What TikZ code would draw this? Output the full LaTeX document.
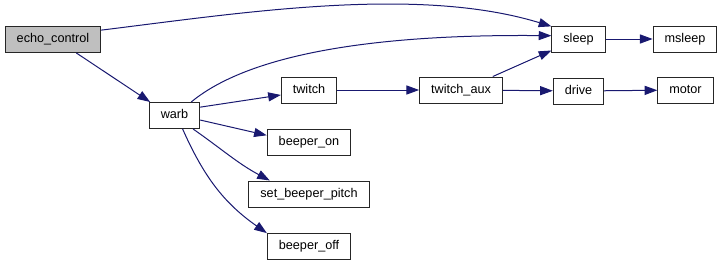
\documentclass[tikz,border=0pt]{standalone}
\usepackage{fontspec}
\setmainfont{Liberation Sans}
\usepackage{xcolor}
\usetikzlibrary{arrows.meta, positioning}
\definecolor{edgeBlue}{RGB}{25,25,112}
\definecolor{rootGray}{RGB}{191,191,191}

\begin{document}
\begin{tikzpicture}[x=0.75pt, y=-0.75pt, node distance=18.75pt,
fn/.style={rectangle, draw=black!85, fill=white, line width=0.75pt,
inner xsep=8.6pt, inner ysep=0pt, minimum height=19.5pt,
text height=7pt, text depth=2pt, font=\fontsize{9.5pt}{11pt}\selectfont},
call/.style={-{Triangle[length=9.5pt,width=6.8pt]}, line width=0.75pt, color=edgeBlue}]
\useasboundingbox (0,0) rectangle (723,261);
% functions of the call graph
\node[fn, fill=rootGray] (echoctl) at (53,39.5) {echo\_control};
\node[fn] (warb)    at (174.5,115.5) {warb};
\node[fn] (twitch)  at (309,90) {twitch};
\node[fn, below=of twitch] (beepon)   {beeper\_on};
\node[fn, below=of beepon] (setpitch) {set\_beeper\_pitch};
\node[fn, below=of setpitch] (beepoff) {beeper\_off};
\node[fn] (twaux)   at (461,90) {twitch\_aux};
\node[fn] (sleep)   at (578.5,39) {sleep};
\node[fn, below=of sleep] (drive) {drive};
\node[fn] (msleep)  at (685,39) {msleep};
\node[fn] (motor)   at (685.5,90) {motor};
% calls
\draw[call] (echoctl.11) to[out=7, in=163, looseness=0.8] (sleep.155);
\draw[call] (echoctl.330) -- (warb.151);
\draw[call] (warb.39) .. controls +(40,-33) and +(-230,-2) .. (sleep.173);
\draw[call] (warb.18)  -- (twitch.190);
\draw[call] (warb.350) -- (beepon.171);
\draw[call] (warb.324) to[out=-35, in=152] (setpitch.161);
\draw[call] (warb.301) to[out=-66, in=145] (beepoff.163);
\draw[call] (twitch) -- (twaux);
\draw[call] (twaux.23) -- (sleep.203);
\draw[call] (twaux) -- (drive);
\draw[call] (sleep) -- (msleep);
\draw[call] (drive) -- (motor);
\end{tikzpicture}
\end{document}
